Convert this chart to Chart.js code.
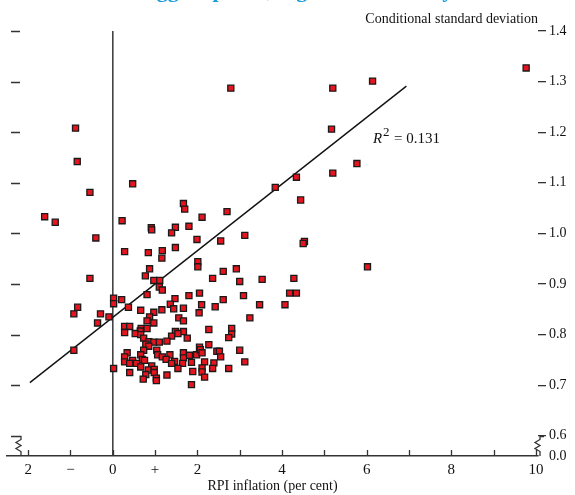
<!DOCTYPE html>
<html>
<head>
<meta charset="utf-8">
<script src="https://cdn.jsdelivr.net/npm/chart.js@4.4.1/dist/chart.umd.min.js"></script>
<style>
  html, body { margin: 0; padding: 0; background: #fff; }
  #wrap { width: 575px; height: 495px; position: relative; }
</style>
</head>
<body>
<div id="wrap"><canvas id="scatterChart"></canvas></div>
<script>
// RPI inflation (per cent)
const inflation = [
  -1.61, -1.36, -0.88, -0.84, 0.47, 2.79, 5.20, 6.14, 5.17, 5.77,
  5.20, 4.34, 3.84, 4.44, 4.53, 4.50, 6.02, 9.77, 3.12, 2.92,
  3.00, 3.53, 4.28, 3.09, 3.47, 4.07, 4.18, 4.34, 3.24, 2.81,
  2.81, 2.74, 3.00, 3.12, -0.54, 1.67, 1.70, 0.22, 2.11, 2.70,
  0.91, 0.92, 1.48, 1.39, 1.80, -0.40, 1.99, 2.55, 0.28, 0.84,
  1.17, 1.48, 1.16, 2.01, 2.01, 2.61, 0.87, 0.77, -0.54, 2.36,
  0.97, 1.11, 1.10, 1.17, 0.81, 1.80, 2.05, 0.02, 0.02, 0.21,
  1.47, 2.61, 1.36, 2.10, 2.42, -0.83, 0.37, 0.66, 1.16, 1.44,
  1.67, -0.92, -0.29, -0.09, 0.97, 0.87, 1.56, 2.04, -0.36, 0.81,
  0.97, 1.67, 0.28, 0.40, 0.28, 0.67, 0.65, 0.81, 0.53, 0.66,
  1.48, 1.67, 1.39, 1.54, 1.76, 2.27, 0.73, 0.85, 0.78, 0.97,
  1.10, 1.28, 0.85, 0.73, 1.04, 2.05, 2.27, 0.34, 0.28, 0.28,
  0.66, 0.70, 0.75, 1.06, 1.17, 1.35, 1.26, 1.67, 1.81, 1.98,
  2.07, 2.11, 1.67, 2.46, 2.52, 2.55, 0.47, 0.40, 0.56, 1.46,
  1.39, 1.65, 1.86, 2.17, 2.39, 0.66, 0.92, 0.84, 0.98, 1.54,
  2.11, 2.36, 2.74, 0.02, 0.40, 0.78, 0.98, 1.89, 2.11, 1.03,
  0.72, 1.28, 1.03, 2.17, 1.86, -0.92
];

// Conditional standard deviation
const stdDev = [
  1.033, 1.022, 1.208, 1.142, 1.098, 1.287, 1.287, 1.301, 1.206, 1.138,
  1.119, 1.111, 1.091, 1.066, 0.984, 0.980, 0.934, 1.327, 0.996, 0.930,
  0.905, 0.909, 0.911, 0.877, 0.859, 0.859, 0.882, 0.882, 0.833, 0.812,
  0.801, 0.794, 0.769, 0.746, 1.081, 1.059, 1.048, 1.025, 1.032, 1.043,
  1.011, 1.007, 1.012, 1.001, 1.014, 0.991, 0.988, 0.985, 0.964, 0.962,
  0.966, 0.972, 0.951, 0.944, 0.934, 0.925, 0.930, 0.916, 0.911, 0.911,
  0.907, 0.907, 0.894, 0.888, 0.879, 0.877, 0.882, 0.872, 0.861, 0.869,
  0.871, 0.869, 0.860, 0.859, 0.855, 0.854, 0.854, 0.848, 0.849, 0.851,
  0.852, 0.841, 0.841, 0.835, 0.844, 0.835, 0.833, 0.843, 0.823, 0.827,
  0.823, 0.827, 0.816, 0.816, 0.804, 0.812, 0.807, 0.812, 0.802, 0.800,
  0.806, 0.806, 0.797, 0.802, 0.793, 0.810, 0.793, 0.786, 0.781, 0.785,
  0.785, 0.787, 0.777, 0.769, 0.769, 0.775, 0.780, 0.764, 0.756, 0.746,
  0.760, 0.751, 0.749, 0.760, 0.756, 0.760, 0.751, 0.764, 0.759, 0.760,
  0.770, 0.764, 0.754, 0.767, 0.767, 0.756, 0.749, 0.743, 0.743, 0.747,
  0.743, 0.743, 0.745, 0.746, 0.744, 0.736, 0.738, 0.730, 0.731, 0.733,
  0.734, 0.733, 0.733, 0.733, 0.725, 0.721, 0.725, 0.727, 0.726, 0.714,
  0.712, 0.720, 0.709, 0.716, 0.701, 0.769
];

// fitted regression line end points
const fitX = [-1.96, 6.94];
const fitY = [0.705, 1.291];
const rSquared = "0.131";

const xTickValues = [-2, -1, 0, 1, 2, 3, 4, 5, 6, 7, 8, 9, 10];
const xTickLabels = ["2", "\u2212", "0", "+", "2", "", "4", "", "6", "", "8", "", "10"];
// bottom of the broken axis stands for 0.0
const yTickValues = [0.56, 0.6, 0.7, 0.8, 0.9, 1.0, 1.1, 1.2, 1.3, 1.4];
const yTickLabels = ["0.0", "0.6", "0.7", "0.8", "0.9", "1.0", "1.1", "1.2", "1.3", "1.4"];

const serif = "'Liberation Serif', 'DejaVu Serif', serif";
const inkColor = "#333";

function drawBreak(ctx, x1, x2, top, bottom) {
  ctx.beginPath();
  ctx.moveTo(x1, top);
  ctx.lineTo(x2, top);
  ctx.lineTo(x2, top + 3);
  ctx.lineTo(x2 - 5, top + 6);
  ctx.lineTo(x2, top + 9);
  ctx.lineTo(x2 - 5, top + 12);
  ctx.lineTo(x2, top + 15);
  ctx.lineTo(x2, bottom);
  ctx.stroke();
}

const decorations = {
  id: "decorations",
  afterDraw(chart) {
    const { ctx, chartArea } = chart;
    const x = chart.scales.x;
    const y = chart.scales.y;
    const { left, right, bottom, top } = chartArea;
    ctx.save();
    ctx.strokeStyle = inkColor;
    ctx.lineWidth = 1.3;

    // inward ticks on the x axis, plain ticks on the left side
    ctx.beginPath();
    for (const v of xTickValues) {
      const px = Math.round(x.getPixelForValue(v)) + 0.5;
      ctx.moveTo(px, bottom);
      ctx.lineTo(px, bottom - 6);
    }
    for (const v of yTickValues) {
      if (v < 0.65) continue;
      const py = Math.round(y.getPixelForValue(v)) + 0.5;
      ctx.moveTo(left + 4, py);
      ctx.lineTo(left + 13, py);
    }
    ctx.stroke();

    // axis breaks
    const p6 = Math.round(y.getPixelForValue(0.6)) + 0.5;
    drawBreak(ctx, left + 4, left + 14, p6, bottom);
    drawBreak(ctx, right + 6, right + 2, p6, bottom);

    // texts
    ctx.fillStyle = "#111";
    ctx.font = "14px " + serif;
    ctx.textAlign = "right";
    ctx.textBaseline = "alphabetic";
    ctx.fillText("Conditional standard deviation", right, top - 8);

    const rx = x.getPixelForValue(6.15);
    const ry = y.getPixelForValue(1.179);
    ctx.textAlign = "left";
    ctx.font = "italic 15px " + serif;
    ctx.fillText("R", rx, ry);
    ctx.font = "13px " + serif;
    ctx.fillText("2", rx + 10, ry - 7);
    ctx.font = "15px " + serif;
    ctx.fillText("= " + rSquared, rx + 21, ry);

    // title, cut off by the top edge
    ctx.fillStyle = "#1b9bd7";
    ctx.font = "bold 22px " + serif;
    ctx.fillText("Bigger spread, higher uncertainty", 136, -3);
    ctx.restore();
  }
};

const points = inflation.map((v, i) => ({ x: v, y: stdDev[i] }));
const fitPoints = fitX.map((v, i) => ({ x: v, y: fitY[i] }));

new Chart(document.getElementById("scatterChart"), {
  type: "scatter",
  data: {
    datasets: [
      {
        label: "Observations",
        data: points,
        pointStyle: "rect",
        pointRadius: 4.3,
        pointBackgroundColor: "#e5141e",
        pointBorderColor: "#1a1a1a",
        pointBorderWidth: 1.3
      },
      {
        label: "Fit",
        data: fitPoints,
        showLine: true,
        borderColor: "#111",
        borderWidth: 1.4,
        pointRadius: 0
      }
    ]
  },
  options: {
    responsive: true,
    maintainAspectRatio: false,
    animation: false,
    layout: { padding: { top: 31, left: 7, right: 0, bottom: 0 } },
    plugins: {
      legend: { display: false },
      tooltip: { enabled: false }
    },
    scales: {
      x: {
        type: "linear",
        position: "bottom",
        min: -2.5,
        max: 10.05,
        afterBuildTicks: (scale) => { scale.ticks = xTickValues.map(v => ({ value: v })); },
        afterFit: (scale) => { scale.height = 39; },
        ticks: {
          autoSkip: false,
          maxRotation: 0,
          padding: 5,
          color: "#111",
          font: { family: serif, size: 15 },
          callback: (value) => xTickLabels[xTickValues.indexOf(value)] ?? ""
        },
        grid: {
          drawTicks: false,
          lineWidth: 1.6,
          color: (c) => (c.tick && c.tick.value === 0 ? "#444" : "rgba(0,0,0,0)")
        },
        border: { display: true, color: inkColor, width: 1.5 },
        title: {
          display: true,
          text: "RPI inflation (per cent)",
          color: "#111",
          font: { family: serif, size: 14 },
          padding: { top: 0, bottom: 0 }
        }
      },
      y: {
        type: "linear",
        position: "right",
        min: 0.56,
        max: 1.4,
        afterBuildTicks: (scale) => { scale.ticks = yTickValues.map(v => ({ value: v })); },
        afterFit: (scale) => { scale.width = 37; },
        ticks: {
          autoSkip: false,
          padding: 3,
          color: "#111",
          font: { family: serif, size: 14 },
          callback: (value) => yTickLabels[yTickValues.indexOf(value)] ?? ""
        },
        grid: {
          drawOnChartArea: false,
          tickLength: 8,
          lineWidth: 1.3,
          color: (c) => (c.tick && c.tick.value < 0.58 ? "rgba(0,0,0,0)" : inkColor)
        },
        border: { display: false }
      }
    }
  },
  plugins: [decorations]
});
</script>
</body>
</html>
